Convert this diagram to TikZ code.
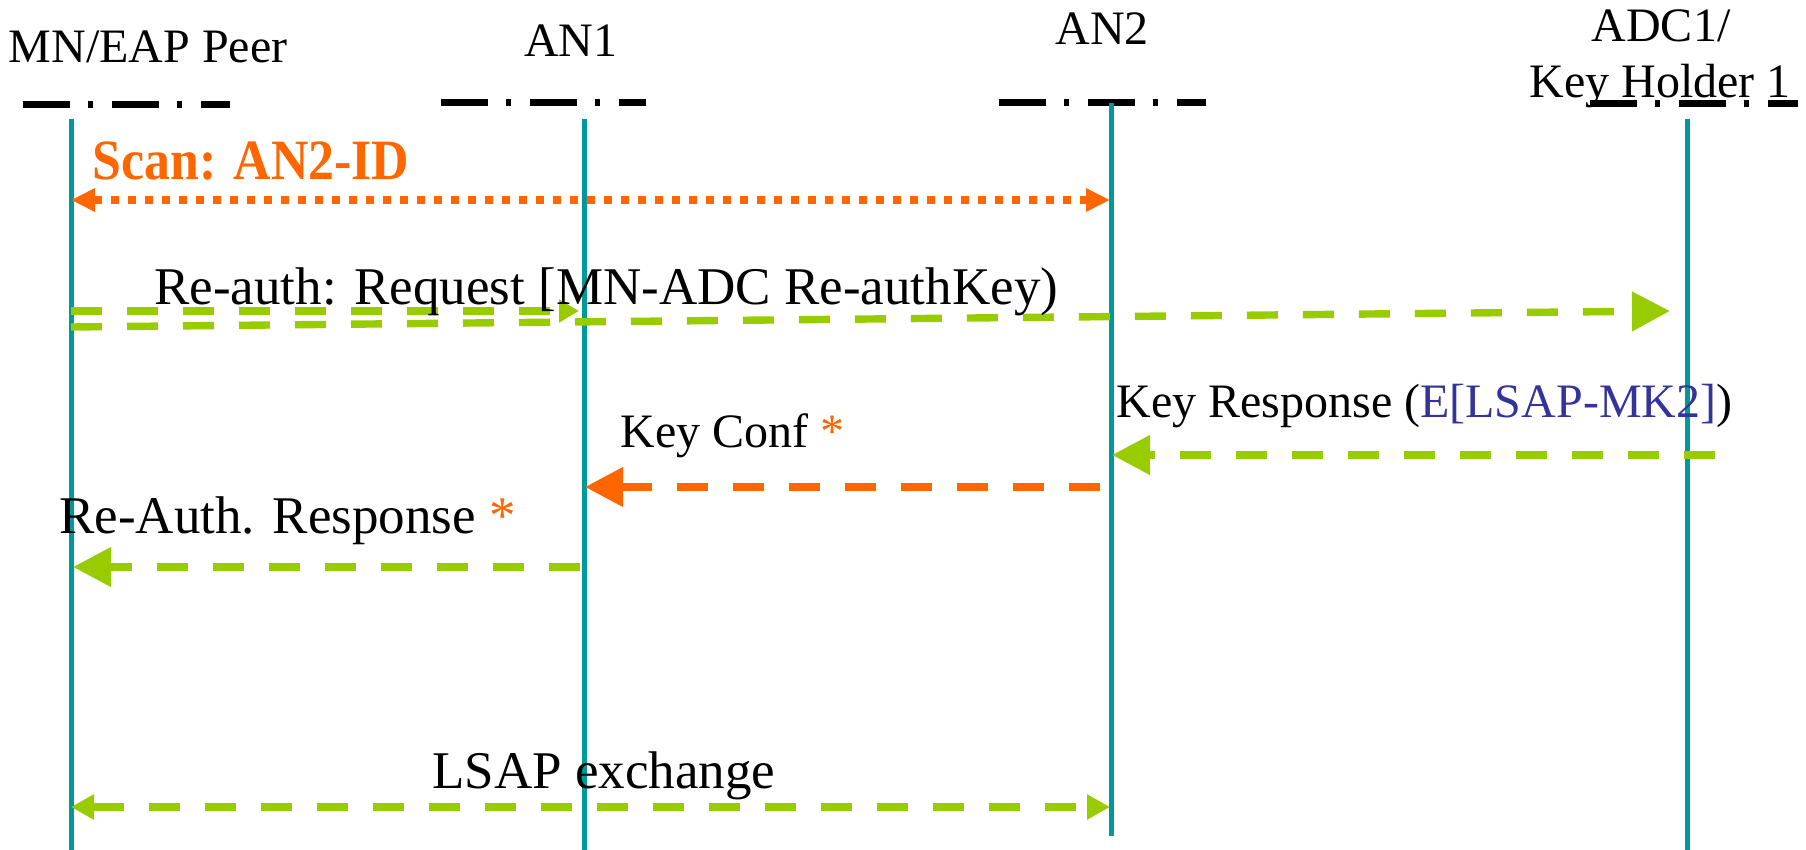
\documentclass[tikz,border=0pt]{standalone}
\usepackage{fontspec}
\setmainfont{Liberation Serif}
\usetikzlibrary{arrows.meta}

\definecolor{lifeTeal}{HTML}{009999}
\definecolor{msgGreen}{HTML}{99CC00}
\definecolor{msgOrange}{HTML}{FF6600}
\definecolor{keyBlue}{HTML}{333399}

\begin{document}
\begin{tikzpicture}[x = 0.5pt, y = -0.5pt]
	\tikzstyle{headStyle} = [inner sep = 0pt, anchor = base, font = \fontsize{24}{28}\selectfont]
	\tikzstyle{bigLabelStyle} = [inner sep = 0pt, anchor = base west, font = \fontsize{26.5}{30}\selectfont]
	\tikzstyle{smallLabelStyle} = [inner sep = 0pt, anchor = base west, font = \fontsize{24}{28}\selectfont]
	\tikzstyle{barStyle} = [line width = 3.5pt, dash pattern = on 23.5pt off 9pt on 2.5pt off 9.5pt]
	\tikzstyle{lifeStyle} = [lifeTeal, line width = 2.5pt]
	\tikzstyle{greenStyle} = [msgGreen, line width = 3.7pt, dash pattern = on 15.5pt off 12.5pt, -{Triangle[length = 19pt, width = 19pt]}]
	\tikzstyle{orangeStyle} = [msgOrange, line width = 3.7pt, dash pattern = on 15.5pt off 12.5pt, -{Triangle[length = 19pt, width = 19pt]}]
	\tikzstyle{scanStyle} = [msgOrange, line width = 3.7pt, dash pattern = on 4.2pt off 4.3pt, {Triangle[length = 12pt, width = 11pt]}-{Triangle[length = 12pt, width = 11pt]}]
	\tikzstyle{lsapStyle} = [msgGreen, line width = 3.7pt, dash pattern = on 15.5pt off 12.5pt, {Triangle[length = 11.5pt, width = 12pt]}-{Triangle[length = 11.5pt, width = 12pt]}]
	\useasboundingbox (0,0) rectangle (1806,850);
	\node[headStyle] (mn) at (148,63) {MN/EAP Peer};
	\node[headStyle] (an1) at (571,57) {AN1};
	\node[headStyle] (an2) at (1102,45) {AN2};
	\node[headStyle] (adc) at (1661,42) {ADC1/};
	\node[headStyle] (keyHolder) at (1660,98) {Key Holder 1};
	\draw[barStyle] (23,105) -- (230,105);
	\draw[barStyle] (441,103) -- (646,103);
	\draw[barStyle] (999,103) -- (1206,103);
	\draw[barStyle] (1590,104) -- (1798,104);
	\coordinate (mnTop) at (71,119);
	\coordinate (mnBot) at (71,850);
	\coordinate (an1Top) at (584,119);
	\coordinate (an1Bot) at (584,850);
	\coordinate (an2Top) at (1111,103);
	\coordinate (an2Bot) at (1111,836);
	\coordinate (adcTop) at (1687,119);
	\coordinate (adcBot) at (1687,850);
	\draw[lifeStyle] (mnTop) -- (mnBot);
	\draw[lifeStyle] (an1Top) -- (an1Bot);
	\draw[lifeStyle] (an2Top) -- (an2Bot);
	\draw[lifeStyle] (adcTop) -- (adcBot);
	\coordinate (scanA) at (71,200);
	\coordinate (scanB) at (1110,200);
	\draw[scanStyle] (scanA) -- (scanB);
	\node[bigLabelStyle, font = \fontsize{28.5}{32}\selectfont\bfseries\addfontfeature{FakeStretch = 0.91}, text = msgOrange] (scanText) at (92,180) {Scan: AN2-ID};
	\coordinate (reqA) at (71,311);
	\coordinate (reqB) at (579,311);
	\coordinate (reqC) at (71,327);
	\coordinate (reqD) at (1670,311);
	\draw[greenStyle, -{Triangle[length = 10pt, width = 11pt]}] (reqA) -- (reqB);
	\draw[greenStyle] (reqC) -- (reqD);
	\node[bigLabelStyle] (reqText) at (154,305) {Re-auth: Request [MN-ADC Re-authKey)};
	\coordinate (respA) at (1715,455);
	\coordinate (respB) at (1112,455);
	\draw[greenStyle] (respA) -- (respB);
	\node[smallLabelStyle] (respText) at (1116,418) {Key Response (\textcolor{keyBlue}{E[LSAP-MK2]})};
	\coordinate (confA) at (1100,487);
	\coordinate (confB) at (585,487);
	\draw[orangeStyle] (confA) -- (confB);
	\node[smallLabelStyle] (confText) at (620,447) {Key Conf \textcolor{msgOrange}{*}};
	\coordinate (reAuthA) at (580,567);
	\coordinate (reAuthB) at (73,567);
	\draw[greenStyle] (reAuthA) -- (reAuthB);
	\node[bigLabelStyle] (reAuthText) at (59,533) {Re-Auth. Response \textcolor{msgOrange}{*}};
	\coordinate (lsapA) at (71,807);
	\coordinate (lsapB) at (1110,807);
	\draw[lsapStyle] (lsapA) -- (lsapB);
	\node[bigLabelStyle] (lsapText) at (432,788) {LSAP exchange};
\end{tikzpicture}
\end{document}
